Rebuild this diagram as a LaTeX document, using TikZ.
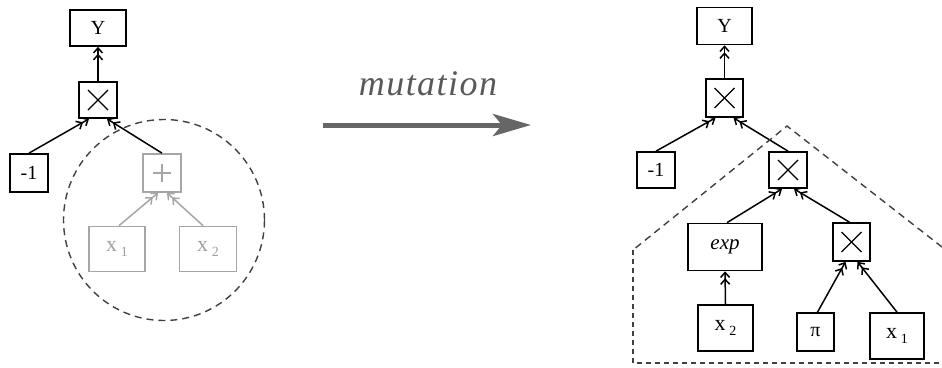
\documentclass[tikz,border=0pt]{standalone}
\usepackage{fontspec}
\setmainfont{Liberation Serif}
\usetikzlibrary{arrows.meta,calc}
\begin{document}
\begin{tikzpicture}[x=1pt,y=-1pt,
  box/.style={draw, line width=1.7pt, inner sep=0pt, font=\fontsize{20}{20}\selectfont},
  gbox/.style={box, draw=gray!70, text=gray!75},
  edge/.style={line width=1.5pt, -{Straight Barb[length=5pt,width=9pt]Straight Barb[length=5pt,width=9pt]}},
  gedge/.style={edge, draw=gray!70},
  crossline/.style={line width=1.3pt},
  hull/.style={dashed, line width=1.4pt, dash pattern=on 7pt off 5pt, draw=black!75}
]
\useasboundingbox (0,0) rectangle (942,367);
\newcommand{\sub}[2]{#1\,\raisebox{-5pt}{\fontsize{14}{14}\selectfont #2}}
% ---------- left tree ----------
\node[box, minimum width=56pt, minimum height=36pt] (Y1) at (98,28) {Y};
\node[box, minimum width=38pt, minimum height=36pt] (M1) at (98,100) {};
\draw[crossline] ($(M1.center)+(-10,-10)$) -- ($(M1.center)+(10,10)$);
\draw[crossline] ($(M1.center)+(-10,10)$) -- ($(M1.center)+(10,-10)$);
\node[box, minimum width=38pt, minimum height=38pt] (C1) at (29,173) {-1};
\node[gbox, minimum width=38pt, minimum height=38pt] (P1) at (162,173) {};
\draw[crossline, draw=gray!70] ($(P1.center)+(-9,0)$) -- ($(P1.center)+(9,0)$);
\draw[crossline, draw=gray!70] ($(P1.center)+(0,-9)$) -- ($(P1.center)+(0,9)$);
\node[gbox, minimum width=56pt, minimum height=45pt, font=\fontsize{22}{22}\selectfont] (X11) at (117,249) {\sub{x}{1}};
\node[gbox, minimum width=57pt, minimum height=45pt, font=\fontsize{22}{22}\selectfont] (X21) at (208,249) {\sub{x}{2}};
\node[hull, draw, circle, minimum size=201pt] (circ) at (164,220) {};
\draw[edge] (M1.north) -- (Y1.south);
\draw[edge] (C1.north) -- ($(M1.south)+(-9,0)$);
\draw[edge] (P1.north) -- ($(M1.south)+(9,0)$);
\draw[gedge] ($(X11.north)+(2,0)$) -- ($(P1.south)+(-4,0)$);
\draw[gedge] ($(X21.north)+(-5,0)$) -- ($(P1.south)+(5,0)$);
% ---------- mutation arrow ----------
\coordinate (A) at (323,125);
\coordinate (B) at (531,125);
\draw[line width=5pt, draw=black!60, -{Stealth[length=38pt,width=22pt,inset=9pt]}] (A) -- (B);
\node[font=\fontsize{36}{36}\selectfont\itshape\addfontfeatures{LetterSpace=4}, text=black!65] (mut) at (428,84) {mutation};
% ---------- right tree ----------
\node[box, minimum width=55pt, minimum height=37pt] (Y2) at (724.5,26) {Y};
\node[box, minimum width=37pt, minimum height=38pt] (M2) at (724.5,98) {};
\draw[crossline] ($(M2.center)+(-10,-10)$) -- ($(M2.center)+(10,10)$);
\draw[crossline] ($(M2.center)+(-10,10)$) -- ($(M2.center)+(10,-10)$);
\node[box, minimum width=38pt, minimum height=36pt] (C2) at (656,170) {-1};
\node[box, minimum width=38pt, minimum height=36pt] (M3) at (788,170) {};
\draw[crossline] ($(M3.center)+(-10,-10)$) -- ($(M3.center)+(10,10)$);
\draw[crossline] ($(M3.center)+(-10,10)$) -- ($(M3.center)+(10,-10)$);
\node[box, minimum width=74pt, minimum height=47pt, font=\fontsize{21}{21}\selectfont\itshape] (E) at (725,247) {exp};
\node[box, minimum width=37pt, minimum height=38pt] (M4) at (851.5,242) {};
\draw[crossline] ($(M4.center)+(-10,-10)$) -- ($(M4.center)+(10,10)$);
\draw[crossline] ($(M4.center)+(-10,10)$) -- ($(M4.center)+(10,-10)$);
\node[box, minimum width=55pt, minimum height=46pt, font=\fontsize{22}{22}\selectfont] (X22) at (725.5,328) {\sub{x}{2}};
\node[box, minimum width=37pt, minimum height=38pt] (PI) at (815.5,332) {π};
\node[box, minimum width=54pt, minimum height=46pt, font=\fontsize{22}{22}\selectfont] (X12) at (897,336) {\sub{x}{1}};
\draw[edge] (M2.north) -- (Y2.south);
\draw[edge] (C2.north) -- ($(M2.south)+(-9,0)$);
\draw[edge] (M3.north) -- ($(M2.south)+(9,0)$);
\draw[edge] ($(E.north)+(2,0)$) -- ($(M3.south)+(-6,0)$);
\draw[edge] ($(M4.north)+(-2,0)$) -- ($(M3.south)+(6,0)$);
\draw[edge] (X22.north) -- (E.south);
\draw[edge] ($(PI.north)+(2,0)$) -- ($(M4.south)+(-6,0)$);
\draw[edge] (X12.north) -- ($(M4.south)+(6,0)$);
% hull of new subtree
\coordinate (h1) at (942,247);
\coordinate (h2) at (787,126);
\coordinate (h3) at (633,250);
\coordinate (h4) at (633,363);
\coordinate (h5) at (942,363);
\draw[hull] (h1) -- (h2) -- (h3);
\draw[hull, dash pattern=on 5pt off 4pt] (h3) -- (h4) -- (h5);
\end{tikzpicture}
\end{document}
